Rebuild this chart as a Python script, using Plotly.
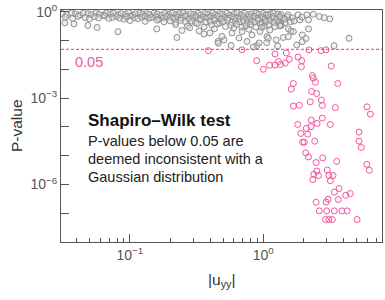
import plotly.graph_objects as go

THRESH = 0.05

# gray points (p >= 0.05): dense top band rows + scattered lower points
g_row1_x = [0.031, 0.0335, 0.0365, 0.0388, 0.0422, 0.0447, 0.0485, 0.0512, 0.0556, 0.0588,
            0.0634, 0.0665, 0.0716, 0.0752, 0.0815, 0.0858, 0.0925, 0.0973, 0.105, 0.110,
            0.119, 0.125, 0.135, 0.141, 0.152, 0.160, 0.173, 0.182, 0.196, 0.207,
            0.222, 0.234, 0.252, 0.264, 0.285, 0.300, 0.323, 0.340, 0.366, 0.386,
            0.415, 0.437, 0.471, 0.495, 0.533, 0.561, 0.604, 0.636, 0.684, 0.721,
            0.775, 0.816, 0.88, 0.925, 0.995, 1.045, 1.13, 1.19, 1.29, 1.36]
g_row1_p = [0.88, 0.80, 0.92, 0.84, 0.79, 0.90, 0.86, 0.81, 0.93, 0.83,
            0.78, 0.89, 0.85, 0.91, 0.80, 0.87, 0.82, 0.94, 0.79, 0.86,
            0.90, 0.83, 0.88, 0.80, 0.92, 0.85, 0.78, 0.89, 0.84, 0.91,
            0.81, 0.87, 0.93, 0.80, 0.86, 0.82, 0.90, 0.79, 0.88, 0.84,
            0.92, 0.81, 0.87, 0.83, 0.90, 0.78, 0.86, 0.93, 0.82, 0.89,
            0.80, 0.85, 0.91, 0.83, 0.88, 0.79, 0.86, 0.92, 0.84, 0.81]
g_row2_x = [0.0328, 0.0372, 0.0408, 0.0462, 0.0497, 0.0543, 0.0582, 0.0648, 0.0694, 0.0738,
            0.0794, 0.0836, 0.0903, 0.0948, 0.1015, 0.1085, 0.1145, 0.1225, 0.1295, 0.1385,
            0.1455, 0.1565, 0.1655, 0.1775, 0.1885, 0.2015, 0.2135, 0.2285, 0.2425, 0.2595,
            0.2755, 0.2945, 0.3125, 0.3335, 0.3545, 0.3785, 0.4015, 0.4285, 0.4555, 0.4865,
            0.5165, 0.5505, 0.5855, 0.6245, 0.6635, 0.7075, 0.7525, 0.8005, 0.8555, 0.9105,
            0.9705, 1.032, 1.098, 1.172, 1.248, 1.334, 1.418, 1.522]
g_row2_p = [0.66, 0.60, 0.70, 0.63, 0.57, 0.68, 0.62, 0.72, 0.59, 0.65,
            0.69, 0.61, 0.56, 0.67, 0.71, 0.63, 0.58, 0.66, 0.70, 0.60,
            0.64, 0.68, 0.57, 0.62, 0.71, 0.65, 0.59, 0.67, 0.61, 0.69,
            0.56, 0.64, 0.70, 0.58, 0.66, 0.62, 0.68, 0.60, 0.72, 0.57,
            0.65, 0.61, 0.69, 0.63, 0.59, 0.67, 0.55, 0.64, 0.70, 0.60,
            0.66, 0.58, 0.62, 0.68, 0.56, 0.64, 0.60, 0.66]
g_row3_x = [0.1, 0.13, 0.16, 0.18, 0.2, 0.22, 0.24, 0.26, 0.29, 0.31,
            0.34, 0.37, 0.4, 0.43, 0.47, 0.5, 0.54, 0.58, 0.62, 0.66,
            0.71, 0.76, 0.81, 0.86, 0.92, 0.98, 1.05, 1.12, 1.2, 1.3, 1.45, 1.6]
g_row3_p = [0.50, 0.47, 0.52, 0.45, 0.49, 0.43, 0.51, 0.46, 0.48, 0.42,
            0.53, 0.44, 0.47, 0.50, 0.41, 0.46, 0.52, 0.43, 0.48, 0.45,
            0.50, 0.42, 0.47, 0.44, 0.51, 0.40, 0.46, 0.49, 0.43, 0.47, 0.42, 0.45]
g_row4_x = [0.22, 0.27, 0.32, 0.36, 0.41, 0.45, 0.52, 0.57, 0.63, 0.69,
            0.74, 0.8, 0.88, 0.95, 1.02, 1.1, 1.22, 1.35, 0.28, 0.43, 0.6, 0.78, 0.97]
g_row4_p = [0.36, 0.32, 0.39, 0.30, 0.35, 0.38, 0.31, 0.34, 0.37, 0.29,
            0.33, 0.36, 0.30, 0.38, 0.32, 0.35, 0.31, 0.37, 0.28, 0.26, 0.27, 0.25, 0.29]
g_right_x = [1.08, 1.33, 1.53, 1.82, 2.12, 2.37, 2.63, 2.87, 3.15, 1.88, 2.18, 1.65, 1.95, 1.45, 1.7]
g_right_p = [0.79, 0.69, 0.79, 0.79, 0.79, 0.83, 0.69, 0.63, 0.57, 0.53, 0.53, 0.62, 0.66, 0.56, 0.48]
g_low_x = [0.0325, 0.038, 0.0484, 0.0567, 0.0813, 0.159, 0.225, 0.245, 0.33, 0.359,
           0.398, 0.457, 0.507, 0.49, 0.573, 0.582, 0.657, 0.692, 0.755, 0.823,
           0.897, 0.929, 0.945, 1.06, 1.066, 1.12, 1.09, 1.25, 1.28, 1.36,
           1.41, 1.54, 1.54, 1.61, 1.78, 1.96, 1.96, 2.09, 2.18, 3.39,
           4.39, 1.33, 1.68, 0.841, 0.46]
g_low_p = [0.414, 0.382, 0.338, 0.288, 0.206, 0.256, 0.129, 0.227, 0.218, 0.171,
           0.185, 0.0938, 0.106, 0.14, 0.068, 0.185, 0.124, 0.209, 0.0938, 0.158,
           0.068, 0.0832, 0.209, 0.0852, 0.14, 0.236, 0.121, 0.106, 0.0654, 0.333,
           0.129, 0.256, 0.138, 0.218, 0.0708, 0.158, 0.0923, 0.119, 0.256, 0.067,
           0.121, 0.325, 0.206, 0.0603, 0.0813]

# pink points (p < 0.05)
pink_x = [0.387, 0.692, 1.224, 1.488, 2.20, 2.71, 2.95, 0.892, 1.00, 1.113,
          1.224, 1.30, 1.346, 1.462, 1.567, 1.82, 1.94, 1.93, 3.23, 2.33,
          2.37, 2.46, 3.61, 1.68, 1.62, 2.30, 2.51, 2.73, 2.25, 2.77,
          1.68, 1.86, 3.47, 5.99, 6.35, 2.29, 2.77, 1.81, 2.10, 2.28,
          2.53, 3.18, 1.91, 2.15, 1.97, 2.03, 2.43, 2.08, 2.18, 2.49,
          2.79, 3.55, 5.22, 5.22, 5.43, 5.97, 6.24, 2.52, 2.39, 2.59,
          2.35, 3.02, 3.33, 3.10, 3.18, 3.70, 3.41, 4.15, 4.49, 3.65,
          3.06, 2.96, 2.49, 2.63, 2.99, 3.41, 3.89, 4.25, 2.92, 3.10, 3.29, 5.05]
pink_p = [0.0449, 0.048, 0.0344, 0.0373, 0.048, 0.045, 0.048, 0.0201, 0.0101, 0.0140,
          0.0142, 0.0188, 0.0148, 0.0167, 0.0225, 0.0270, 0.0201, 0.0124, 0.0131, 0.00613,
          0.00501, 0.00358, 0.00323, 0.00323, 0.00208, 0.00170, 0.00145, 0.000859, 0.000749, 0.000561,
          0.000531, 0.000566, 0.00047, 0.000501, 0.000279, 0.000173, 0.000203, 0.000122, 8.87e-5, 1.02e-4,
          1.32e-4, 1.22e-4, 5.94e-5, 5.61e-5, 2.95e-5, 2.95e-5, 3.2e-5, 1.25e-5, 9.08e-6, 5.8e-6,
          8.38e-6, 6.33e-6, 6.59e-5, 3.2e-5, 1.93e-5, 4.98e-6, 3.12e-6, 2.95e-6, 2.26e-6, 2.04e-6,
          1.48e-6, 3.2e-6, 2.04e-6, 2.09e-6, 1.35e-6, 7.26e-7, 5.43e-7, 4.2e-7, 4.82e-7, 3.0e-7,
          3.05e-7, 2.44e-7, 2.40e-7, 1.21e-7, 1.21e-7, 1.21e-7, 1.21e-7, 1.21e-7, 6.03e-8, 6.03e-8, 6.03e-8, 6.03e-8]

y_tickvals = [1, 1e-3, 1e-6]
y_ticktext = ["10<sup>0</sup>", "10<sup>−3</sup>", "10<sup>−6</sup>"]
y_minor = [1e-1, 1e-2, 1e-4, 1e-5, 1e-7]
x_tickvals = [0.1, 1]
x_ticktext = ["10<sup>−1</sup>", "10<sup>0</sup>"]
x_minor = [0.04, 0.05, 0.06, 0.07, 0.08, 0.09, 0.2, 0.3, 0.4, 0.5, 0.6, 0.7, 0.8, 0.9,
           2, 3, 4, 5, 6, 7]

gray_x = g_row1_x + g_row2_x + g_row3_x + g_row4_x + g_right_x + g_low_x
gray_p = g_row1_p + g_row2_p + g_row3_p + g_row4_p + g_right_p + g_low_p

FONT = "Liberation Sans, Arial, sans-serif"
PINK = "#f5529e"

fig = go.Figure()
fig.add_trace(go.Scatter(
    x=gray_x, y=gray_p, mode="markers",
    marker=dict(symbol="circle", size=6, color="rgba(215,215,215,0.35)",
                line=dict(color="#8e8e8e", width=1)),
    hoverinfo="skip", showlegend=False))
fig.add_trace(go.Scatter(
    x=pink_x, y=pink_p, mode="markers",
    marker=dict(symbol="circle-open", size=6, color=PINK, line=dict(width=1)),
    hoverinfo="skip", showlegend=False))

fig.add_hline(y=THRESH, line=dict(color="#ec2f80", width=1, dash="3px,2px"))

fig.update_layout(
    width=385, height=300,
    margin=dict(l=61, r=3, t=10, b=58),
    paper_bgcolor="white", plot_bgcolor="white",
    font=dict(family=FONT, color="#555"),
    xaxis=dict(type="log", range=[-1.517, 0.890],
               tickmode="array", tickvals=x_tickvals, ticktext=x_ticktext,
               ticks="inside", ticklen=8, tickcolor="#555", tickwidth=1,
               minor=dict(ticks="inside", ticklen=4, tickcolor="#555", tickwidth=1,
                          tickmode="array", tickvals=x_minor),
               showgrid=False, zeroline=False,
               showline=True, mirror=True, linecolor="#555", linewidth=1,
               tickfont=dict(size=14, color="#555")),
    yaxis=dict(type="log", range=[-8.0, 0.066],
               tickmode="array", tickvals=y_tickvals, ticktext=y_ticktext,
               ticks="inside", ticklen=8, tickcolor="#555", tickwidth=1,
               minor=dict(ticks="inside", ticklen=8, tickcolor="#555", tickwidth=1,
                          tickmode="array", tickvals=y_minor),
               showgrid=False, zeroline=False,
               showline=True, mirror=True, linecolor="#555", linewidth=1,
               tickfont=dict(size=14, color="#555")),
)

ann = []
ann.append(dict(text="0.05", x=0.038, y=0.777, xref="paper", yref="paper",
                xanchor="left", yanchor="middle", showarrow=False,
                font=dict(size=14.5, color=PINK, family=FONT)))
ann.append(dict(text="<b>Shapiro–Wilk test</b>", x=0.079, y=0.523, xref="paper", yref="paper",
                xanchor="left", yanchor="middle", showarrow=False,
                font=dict(size=17, color="#111", family=FONT)))
body = ["P-values below 0.05 are", "deemed inconsistent with a", "Gaussian distribution"]
body_y = [0.4366, 0.3578, 0.2815]
for t, yy in zip(body, body_y):
    ann.append(dict(text=t, x=0.079, y=yy, xref="paper", yref="paper",
                    xanchor="left", yanchor="middle", showarrow=False,
                    font=dict(size=14.5, color="#222", family=FONT)))
ann.append(dict(text="P-value", x=(16 - 61) / 321, y=1 - (126 - 10) / 232,
                xref="paper", yref="paper", xanchor="center", yanchor="middle",
                showarrow=False, textangle=-90, font=dict(size=15.5, color="#333", family=FONT)))
ann.append(dict(text="|u<sub>yy</sub>|", x=0.5, y=-0.165, xref="paper", yref="paper",
                xanchor="center", yanchor="middle", showarrow=False,
                font=dict(size=15.5, color="#333", family=FONT)))
fig.update_layout(annotations=ann)

fig.write_html("out.html", config={"displayModeBar": False},
               post_script="document.body.style.margin='0px';")
